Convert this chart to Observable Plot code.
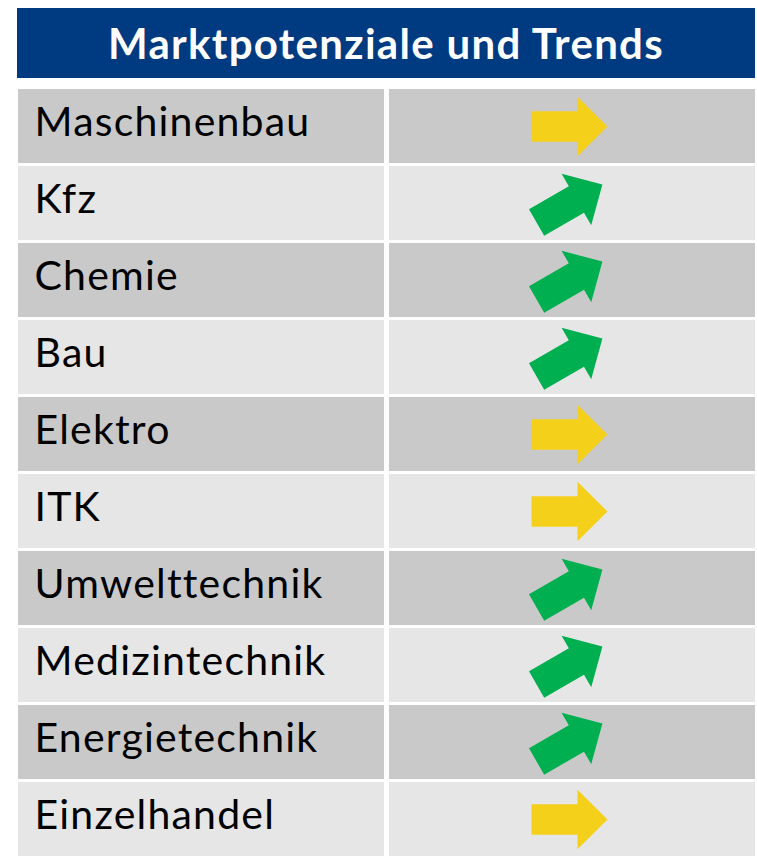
<!DOCTYPE html>
<html>
<head>
<meta charset="utf-8">
<script src="https://cdn.jsdelivr.net/npm/d3@7"></script>
<script src="https://cdn.jsdelivr.net/npm/@observablehq/plot@0.6"></script>
<style>
  html, body { margin: 0; padding: 0; background: #fff; }
  #header {
    margin: 8px 2px 0 17px;
    height: 70px;
    background: #003A80;
    color: #fff;
    font-family: Lato, sans-serif;
    font-weight: bold;
    font-size: 42px;
    letter-spacing: 1.3px;
    display: flex;
    align-items: center;
    justify-content: center;
  }
  #chart { margin-top: 8px; }
  #chart svg { display: block; }
  #chart text { letter-spacing: 1.2px; }
</style>
</head>
<body>
<div id="header">Marktpotenziale und Trends</div>
<div id="chart"></div>
<script>
const title = "Marktpotenziale und Trends";
const columns = ["Branche", "Trend"];
const branchen = ["Maschinenbau", "Kfz", "Chemie", "Bau", "Elektro", "ITK", "Umwelttechnik", "Medizintechnik", "Energietechnik", "Einzelhandel"];
const trends = ["gleich", "steigend", "steigend", "steigend", "gleich", "gleich", "steigend", "steigend", "steigend", "gleich"];
const trendLevels = ["gleich", "steigend"];
const trendColors = ["#F5D01A", "#00B050"];

// arrow symbol drawn relative to its radius, rotated by the given angle
function arrowSymbol(angleDeg) {
  const a = angleDeg * Math.PI / 180, c = Math.cos(a), s = Math.sin(a);
  const pts = [[-1, -0.4], [0.21, -0.4], [0.21, -0.78], [1, 0], [0.21, 0.78], [0.21, 0.4], [-1, 0.4]];
  return {
    draw(context, size) {
      const r = Math.sqrt(size / Math.PI);
      pts.forEach(([x, y], i) => {
        const px = (x * c + y * s) * r, py = (-x * s + y * c) * r;
        if (i === 0) context.moveTo(px, py); else context.lineTo(px, py);
      });
      context.closePath();
    }
  };
}

const rows = branchen.map((b, i) => ({branche: b, trend: trends[i], shade: i % 2 === 0 ? "dunkel" : "hell"}));
const cells = rows.flatMap(r => columns.map(col => ({...r, col})));

const chart = Plot.plot({
  width: 757,
  height: 772,
  marginLeft: 17,
  marginRight: 2,
  marginTop: 0,
  marginBottom: 0,
  style: {background: "#fff"},
  x: {domain: columns, paddingInner: 0.0135, paddingOuter: 0, axis: null},
  y: {domain: branchen, paddingInner: 0.04, paddingOuter: 0, axis: null},
  color: {domain: ["dunkel", "hell"], range: ["#C9C9C9", "#E6E6E6"]},
  symbol: {domain: trendLevels, range: [arrowSymbol(0), arrowSymbol(30)]},
  marks: [
    Plot.cell(cells, {x: "col", y: "branche", fill: "shade", inset: 0}),
    Plot.text(rows, {
      x: () => "Branche", y: "branche", text: "branche",
      textAnchor: "start", dx: -167, dy: -4,
      fontFamily: "Lato, sans-serif", fontSize: 41, fill: "#000"
    }),
    Plot.dot(rows, {
      x: () => "Trend", y: "branche", symbol: "trend",
      fill: d => trendColors[trendLevels.indexOf(d.trend)],
      stroke: "none", r: 38, dx: -3
    })
  ]
});
document.getElementById("chart").append(chart);
</script>
</body>
</html>
